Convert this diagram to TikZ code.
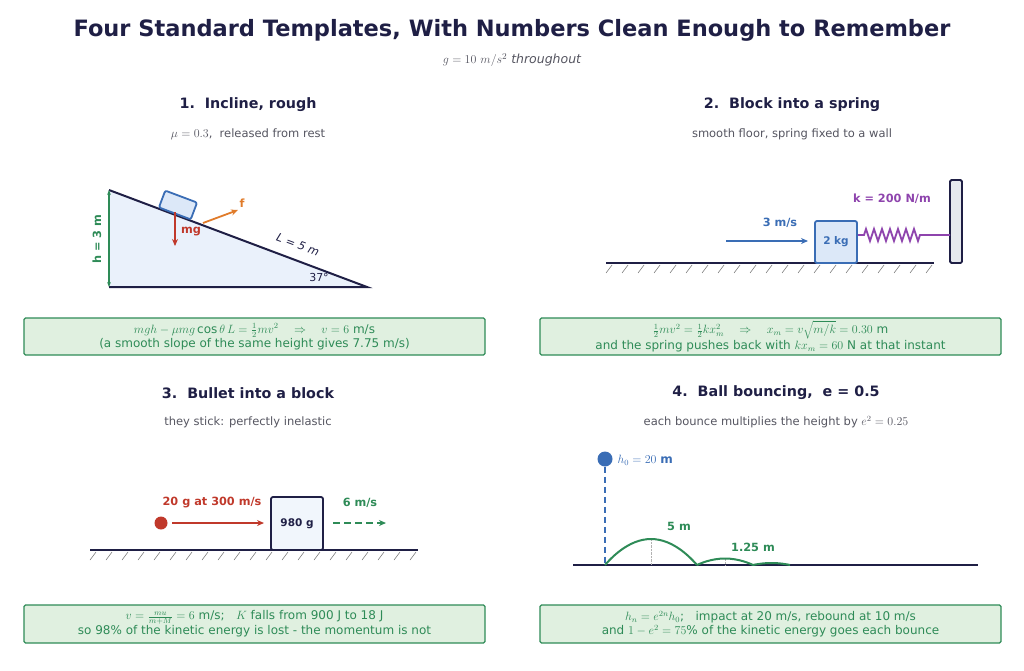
\documentclass[tikz,border=0pt]{standalone}
\usepackage{fontspec}
\setmainfont{DejaVu Sans}
\usetikzlibrary{arrows.meta,decorations.pathmorphing}
\definecolor{navy}{HTML}{1F1F45}
\definecolor{grn}{HTML}{2E8B57}
\definecolor{boxf}{HTML}{E0F0E0}
\definecolor{blk}{HTML}{3A6DB5}
\definecolor{blkf}{HTML}{DCE8F8}
\definecolor{red}{HTML}{C0392B}
\definecolor{org}{HTML}{E07B2A}
\definecolor{pur}{HTML}{8E44AD}
\definecolor{gry}{HTML}{555560}
\tikzset{
 res/.style={draw=grn,fill=boxf,line width=1.2pt,rounded corners=1.5pt,text=grn,align=center,font=\fontsize{12}{14}\selectfont,inner sep=0},
 head/.style={text=navy,font=\fontsize{14.3}{16}\selectfont\bfseries},
 sub/.style={text=gry,font=\fontsize{11.5}{13}\selectfont},
 lab/.style={font=\fontsize{11.3}{13}\selectfont\bfseries},
 arr/.style={-{Stealth[length=7pt,width=6pt]},line width=1.8pt},
 ground/.style={line width=2pt,draw=navy},
}
\begin{document}
\begin{tikzpicture}[x=1pt,y=-1pt]
\useasboundingbox (0,0) rectangle (1024,670);
\node[text=navy,font=\fontsize{22.5}{26}\selectfont\bfseries] (title) at (512,30) {Four Standard Templates, With Numbers Clean Enough to Remember};
\node[sub,font=\fontsize{12.5}{14}\selectfont] (st) at (512,60) {$g=10\ m/s^2$ \itshape throughout};
% headers
\node[head] (h1) at (248,105) {1.\ \ Incline, rough};
\node[sub] (s1) at (248,134) {$\mu=0.3$,\ \ released from rest};
\node[head] (h2) at (792,105) {2.\ \ Block into a spring};
\node[sub] (s2) at (792,134) {smooth floor, spring fixed to a wall};
\node[head] (h3) at (248,393) {3.\ \ Bullet into a block};
\node[sub] (s3) at (248,422) {they stick: perfectly inelastic};
\node[head] (h4) at (776,393) {4.\ \ Ball bouncing,\ \ e = 0.5};
\node[sub] (s4) at (776,422) {each bounce multiplies the height by $e^2=0.25$};
% result boxes
\node[res,minimum width=461pt,minimum height=37pt] (b1) at (254.5,336.5) {$mgh-\mu mg\cos\theta\,L=\frac12 mv^2\quad\Rightarrow\quad v=6$ m/s\\(a smooth slope of the same height gives 7.75 m/s)};
\node[res,minimum width=461pt,minimum height=37pt] (b2) at (770.5,336.5) {$\frac12 mv^2=\frac12 kx_m^2\quad\Rightarrow\quad x_m=v\sqrt{m/k}=0.30$ m\\and the spring pushes back with $kx_m=60$ N at that instant};
\node[res,minimum width=461pt,minimum height=38pt] (b3) at (254.5,624) {$v=\frac{mu}{m+M}=6$ m/s;\ \ \ $K$ falls from 900 J to 18 J\\so 98\% of the kinetic energy is lost - the momentum is not};
\node[res,minimum width=461pt,minimum height=38pt] (b4) at (770.5,624) {$h_n=e^{2n}h_0$;\ \ \ impact at 20 m/s, rebound at 10 m/s\\and $1-e^2=75\%$ of the kinetic energy goes each bounce};
% panel 1
\coordinate (A) at (109,190); \coordinate (B) at (109,287); \coordinate (C) at (367,287);
\fill[fill=blkf!60] (A)--(B)--(C)--cycle;
\draw[line width=2pt,navy] (B)--(C)--(A);
\node[draw=blk,fill=blkf,line width=1.8pt,rounded corners=2pt,minimum width=34pt,minimum height=18pt,rotate=-20.6,inner sep=0] (blk1) at (178,205) {};
\draw[arr,red] (175,212) -- (175,246);
\node[lab,text=red] (mg) at (191,232) {mg};
\draw[arr,org] (203,223) -- (238,210);
\node[lab,text=org] (f) at (242,203) {f};
\node[rotate=-20.6,text=navy,font=\fontsize{11.3}{13}\selectfont\itshape] (L) at (298,245) {L = 5 m};
\node[text=navy,font=\fontsize{11}{13}\selectfont] (ang) at (319,277) {37°};
\draw[grn,line width=1.5pt,{Stealth[length=5pt]}-{Stealth[length=5pt]}] (A) -- (B);
\node[lab,text=grn,rotate=90] (h) at (97,239) {h = 3 m};
% panel 2
\draw[ground] (606,263) -- (934,263);
\foreach \x in {612,628,...,932} \draw[gray,line width=0.6pt] (\x,265) -- (\x-6,273);
\draw[navy,fill=blkf!70!gray!40,line width=1.8pt,rounded corners=1.5pt] (950,180) rectangle (962,263);
\node[draw=blk,fill=blkf,line width=1.8pt,rounded corners=2pt,minimum width=42pt,minimum height=42pt,inner sep=0,text=blk,lab,font=\fontsize{10.5}{12}\selectfont\bfseries] (blk2) at (836,242) {2 kg};
\draw[pur,line width=1.8pt] (858,235) -- (864,235) decorate[decoration={zigzag,segment length=8pt,amplitude=6pt}]{-- (920,235)} -- (950,235);
\node[lab,text=pur] (k) at (892,199) {k = 200 N/m};
\draw[arr,blk] (726,241) -- (808,241);
\node[lab,text=blk] (v2) at (780,223) {3 m/s};
% panel 3
\draw[ground] (90,550) -- (418,550);
\foreach \x in {96,112,...,416} \draw[gray,line width=0.6pt] (\x,552) -- (\x-6,560);
\node[circle,fill=red,minimum size=13pt,inner sep=0] (bul) at (161,523) {};
\node[draw=navy,fill=blkf!40,line width=1.8pt,rounded corners=2pt,minimum width=52pt,minimum height=53pt,inner sep=0,text=navy,lab,font=\fontsize{10.5}{12}\selectfont\bfseries] (blk3) at (297,523.5) {980 g};
\draw[arr,red] (172,523) -- (264,523);
\node[lab,text=red] (l3) at (212,503) {20 g at 300 m/s};
\draw[arr,grn,dash pattern=on 7pt off 4pt] (333,523) -- (386,523);
\node[lab,text=grn] (l3b) at (360,503) {6 m/s};
% panel 4
\draw[ground] (573,565) -- (978,565);
\node[circle,fill=blk,minimum size=15pt,inner sep=0] (ball) at (605,459) {};
\coordinate (g0) at (605,565);
\draw[blk,line width=1.8pt,dash pattern=on 6pt off 4pt] (ball) -- (g0);
\node[anchor=west,text=blk,font=\fontsize{12}{14}\selectfont] (h0) at (614,460) {$h_0=20$ \textbf{m}};
\draw[gray!60,densely dotted] (651,539) -- (651,565);
\draw[gray!60,densely dotted] (725,559) -- (725,565);
\draw[grn,line width=2pt] (605,565) parabola bend (651,539) (697,565);
\draw[grn,line width=2pt] (697,565) parabola bend (725,558.5) (753,565);
\draw[grn,line width=2pt] (753,565) parabola bend (771.5,563) (790,565);
\node[lab,text=grn] (l5) at (679,526) {5 m};
\node[lab,text=grn] (l125) at (753,547) {1.25 m};
\end{tikzpicture}
\end{document}
